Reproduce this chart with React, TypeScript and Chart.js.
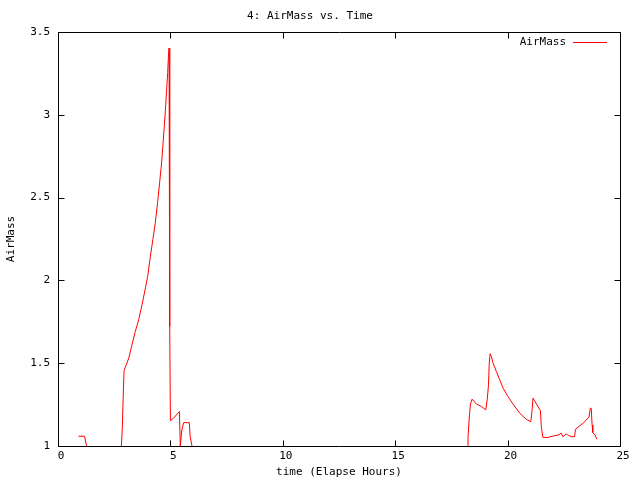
import React, { useEffect, useRef } from "react";
import { Chart, registerables } from "chart.js";

Chart.register(...registerables);

const chartTitle = "4: AirMass vs. Time";
const seriesName = "AirMass";
const xAxisTitle = "time (Elapse Hours)";
const yAxisTitle = "AirMass";

const hours: number[] = [
  0.91, 1.18, 1.27,
  2.0,
  2.82, 2.86, 2.91, 2.94, 3.15, 3.29, 3.44, 3.59, 3.74, 3.89, 3.99,
  4.11, 4.22, 4.33, 4.43, 4.52, 4.61, 4.67, 4.73, 4.79, 4.83, 4.88, 4.91, 4.94, 4.97,
  5.0, 5.14, 5.4, 5.44, 5.51, 5.59, 5.84, 5.88, 5.96,
  12.0,
  18.24, 18.24, 18.3, 18.35, 18.42, 18.61, 18.84, 19.03, 19.1, 19.15,
  19.18, 19.22, 19.28, 19.35, 19.5, 19.65, 19.8, 20.02, 20.24, 20.54,
  20.83, 21.03, 21.07, 21.13, 21.2, 21.35, 21.46, 21.5, 21.57, 21.8,
  22.09, 22.24, 22.39, 22.46, 22.61, 22.68, 22.83, 22.98, 23.02, 23.2,
  23.35, 23.5, 23.62, 23.68, 23.72, 23.76, 23.79, 23.89, 23.98,
];

const airMass: (number | null)[] = [
  1.059, 1.059, 1.0,
  null,
  1.0, 1.107, 1.339, 1.456, 1.531, 1.611, 1.692, 1.763, 1.854, 1.955, 2.025,
  2.146, 2.247, 2.348, 2.469, 2.59, 2.711, 2.822, 2.933, 3.054, 3.145, 3.256, 3.347, 3.403, 1.722,
  1.153, 1.168, 1.208, 1.0, 1.097, 1.141, 1.141, 1.056, 1.0,
  null,
  1.0, 1.056, 1.182, 1.254, 1.283, 1.254, 1.238, 1.218, 1.289, 1.369,
  1.49, 1.557, 1.541, 1.501, 1.45, 1.4, 1.349, 1.298, 1.254, 1.198,
  1.161, 1.147, 1.188, 1.289, 1.274, 1.238, 1.214, 1.117, 1.052, 1.052,
  1.062, 1.066, 1.077, 1.056, 1.073, 1.066, 1.056, 1.056, 1.101, 1.121,
  1.137, 1.157, 1.174, 1.228, 1.228, 1.127, 1.081, 1.066, 1.04,
];

const xTicks = [0, 5, 10, 15, 20, 25];
const yTicks = [1, 1.5, 2, 2.5, 3, 3.5];

const FONT = "'DejaVu Sans Mono', 'Liberation Mono', monospace";

const framePlugin = {
  id: "gnuFrame",
  beforeDatasetsDraw(chart: any) {
    const { ctx, chartArea } = chart;
    const L = Math.round(chartArea.left) + 0.5;
    const R = Math.round(chartArea.right) + 0.5;
    const T = Math.round(chartArea.top) + 0.5;
    const B = Math.round(chartArea.bottom) + 0.5;
    const xs = chart.scales.x;
    const ys = chart.scales.y;
    ctx.save();
    ctx.strokeStyle = "#000";
    ctx.lineWidth = 1;
    ctx.beginPath();
    ctx.moveTo(L, T);
    ctx.lineTo(R, T);
    ctx.lineTo(R, B);
    ctx.lineTo(L, B);
    ctx.closePath();
    const tl = 6;
    xTicks.forEach((v) => {
      const px = Math.round(xs.getPixelForValue(v)) + 0.5;
      ctx.moveTo(px, B);
      ctx.lineTo(px, B - tl);
      ctx.moveTo(px, T);
      ctx.lineTo(px, T + tl);
    });
    yTicks.forEach((v) => {
      const py = Math.round(ys.getPixelForValue(v)) + 0.5;
      ctx.moveTo(L, py);
      ctx.lineTo(L + tl, py);
      ctx.moveTo(R, py);
      ctx.lineTo(R - tl, py);
    });
    ctx.stroke();
    ctx.restore();
  },
  afterDraw(chart: any) {
    const { ctx, chartArea } = chart;
    const { right, top } = chartArea;
    ctx.save();
    ctx.font = `11px ${FONT}`;
    ctx.fillStyle = "#000";
    ctx.textAlign = "right";
    ctx.textBaseline = "middle";
    ctx.fillText(seriesName, right - 54, top + 10.5);
    ctx.strokeStyle = "#ff0000";
    ctx.lineWidth = 1;
    ctx.beginPath();
    ctx.moveTo(right - 47, top + 10.5);
    ctx.lineTo(right - 13, top + 10.5);
    ctx.stroke();
    ctx.restore();
  },
};

export default function App() {
  const canvasRef = useRef<HTMLCanvasElement | null>(null);

  useEffect(() => {
    if (!canvasRef.current) return;
    const points = hours.map((h, i) => ({ x: h, y: airMass[i] }));
    const chart = new Chart(canvasRef.current, {
      type: "line",
      data: {
        datasets: [
          {
            label: seriesName,
            data: points as any,
            borderColor: "#ff0000",
            backgroundColor: "#ff0000",
            borderWidth: 1,
            pointRadius: 0,
            tension: 0,
            spanGaps: false,
            fill: false,
          },
        ],
      },
      options: {
        animation: false,
        responsive: false,
        maintainAspectRatio: false,
        layout: { padding: { left: 0, right: 20, top: 0, bottom: 0 } },
        plugins: {
          legend: { display: false },
          tooltip: { enabled: false },
          title: {
            display: true,
            text: chartTitle,
            color: "#000",
            font: { family: FONT, size: 11, weight: "normal", lineHeight: 1.2 },
            padding: { top: 9.4, bottom: 9.4 },
          },
        },
        scales: {
          x: {
            type: "linear",
            min: 0,
            max: 25,
            afterFit: (s: any) => {
              s.height = 34;
            },
            afterBuildTicks: (s: any) => {
              s.ticks = xTicks.map((v) => ({ value: v }));
            },
            grid: { display: false, drawTicks: false },
            border: { display: false },
            ticks: {
              color: "#000",
              font: { family: FONT, size: 11, lineHeight: 1.2 },
              padding: 4,
              labelOffset: 3,
              maxRotation: 0,
              autoSkip: false,
              callback: (v: any) => String(v),
            },
            title: {
              display: true,
              text: xAxisTitle,
              color: "#000",
              font: { family: FONT, size: 11, lineHeight: 1.2 },
              padding: { top: 0, bottom: 1 },
            },
          },
          y: {
            type: "linear",
            min: 1,
            max: 3.5,
            afterFit: (s: any) => {
              s.width = 58;
            },
            afterBuildTicks: (s: any) => {
              s.ticks = yTicks.map((v) => ({ value: v }));
            },
            grid: { display: false, drawTicks: false },
            border: { display: false },
            ticks: {
              color: "#000",
              font: { family: FONT, size: 11, lineHeight: 1.2 },
              padding: 8,
              autoSkip: false,
              callback: (v: any) => String(v),
            },
            title: {
              display: true,
              text: yAxisTitle,
              color: "#000",
              font: { family: FONT, size: 11, lineHeight: 1.2 },
              padding: { top: 5, bottom: 0 },
            },
          },
        },
      },
      plugins: [framePlugin],
    });
    return () => chart.destroy();
  }, []);

  return (
    <div style={{ position: "absolute", left: 0, top: 0, width: 640, height: 480, background: "#fff" }}>
      <canvas ref={canvasRef} width={640} height={480} style={{ display: "block", width: 640, height: 480 }} />
    </div>
  );
}
